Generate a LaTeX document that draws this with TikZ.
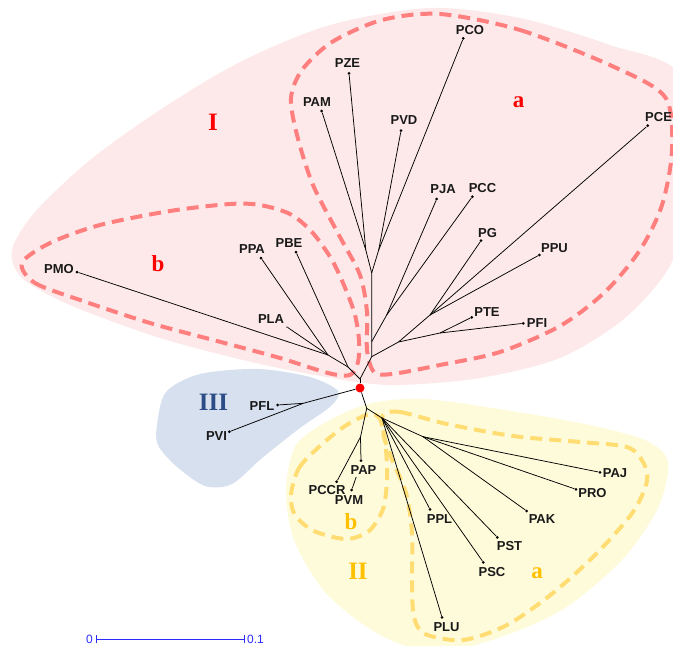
\documentclass[tikz,border=0pt]{standalone}
\usepackage{fontspec}
\setmainfont{Liberation Sans}
\newfontfamily\lserif{Liberation Serif}
\definecolor{pinkbg}{HTML}{FDE9EA}
\definecolor{reddash}{HTML}{FF7F7F}
\definecolor{bluebg}{HTML}{D6E0EE}
\definecolor{yellowbg}{HTML}{FEFBDB}
\definecolor{yellowdash}{HTML}{FFDD72}
\definecolor{goldtxt}{HTML}{FFC000}
\definecolor{navytxt}{HTML}{2B4C86}
\definecolor{scaleblue}{HTML}{2B2BFF}
\begin{document}
\begin{tikzpicture}[x=1pt,y=-1pt,
  leaf/.style={circle,fill=black,inner sep=0pt,minimum size=3pt},
  root/.style={circle,fill=red,inner sep=0pt,minimum size=9pt},
  lab/.style={font=\bfseries\fontsize{13}{13}\selectfont,inner sep=0pt,text=black!90},
  branch/.style={black,line width=0.75pt},
  regdash/.style={line width=4pt,dash pattern=on 12pt off 7pt},
  grp/.style={font=\lserif\bfseries\fontsize{25}{25}\selectfont,inner sep=0pt},
  sub/.style={font=\lserif\bfseries\fontsize{23}{23}\selectfont,inner sep=0pt},
  sclab/.style={font=\fontsize{12}{12}\selectfont,text=scaleblue,inner sep=0pt}]
\useasboundingbox (0,0) rectangle (673,646);
\clip (0,0) rectangle (673,646);
% background regions
\fill[pinkbg] plot[smooth cycle] coordinates {(12,250) (35,212) (90,160) (160,110) (240,62) (330,25) (430,8) (520,18) (610,45) (680,75) (692,180) (672,262) (625,318) (560,358) (480,378) (400,385) (350,381) (260,364) (160,338) (70,305) (22,278)};
\fill[bluebg] plot[smooth cycle] coordinates {(157,425) (166,392) (200,374) (258,369) (310,377) (338,391) (331,406) (300,428) (262,458) (232,484) (205,486) (176,466) (158,445)};
\fill[yellowbg] plot[smooth cycle] coordinates {(296,445) (330,420) (372,403) (425,399) (505,410) (585,424) (645,440) (668,462) (658,508) (622,560) (562,610) (492,640) (430,652) (375,632) (325,592) (294,540) (286,490)};
% dashed subgroups
\draw[regdash,reddash] plot[smooth cycle] coordinates {(440,14) (520,30) (612,66) (665,97) (672,150) (662,205) (640,250) (605,292) (560,326) (500,352) (440,365) (392,374) (374,372) (367,350) (367,312) (360,275) (340,237) (313,185) (297,135) (291,98) (302,70) (332,42) (382,20)};
\draw[regdash,reddash] plot[smooth cycle] coordinates {(22,263) (35,283) (83,301) (150,323) (217,341) (280,358) (328,373) (350,375) (358,362) (359,340) (355,315) (346,290) (332,260) (312,232) (290,214) (260,205) (230,204) (170,211) (100,225) (50,243)};
\draw[regdash,yellowdash] plot[smooth cycle] coordinates {(383,415) (400,412) (447,424) (513,436) (580,442) (627,447) (643,462) (647,481) (633,512) (597,553) (553,593) (507,625) (463,640) (425,634) (414,617) (412,583) (412,533) (406,493) (391,457) (383,433)};
\draw[regdash,yellowdash] plot[smooth cycle] coordinates {(291,495) (299,468) (320,446) (345,426) (370,414) (381,421) (386,450) (387,480) (383,509) (369,531) (346,539) (314,531) (295,515)};
% internal points
\coordinate (A) at (360,379);
\coordinate (Bb) at (348,367);
\coordinate (Bc) at (328,355);
\coordinate (D) at (371.7,356.7);
\coordinate (L) at (371.7,341.7);
\coordinate (E) at (371.7,273);
\coordinate (K) at (386.7,315);
\coordinate (G) at (365.8,250);
\coordinate (F) at (378.7,250);
\coordinate (I) at (398.5,342);
\coordinate (H) at (430,315);
\coordinate (J) at (440,333);
\coordinate (T) at (303.3,403.3);
\coordinate (M) at (366.7,408.3);
\coordinate (N) at (382,418);
\coordinate (P1) at (423,436.7);
\coordinate (Q) at (360.5,437);
\coordinate (vmj) at (356.2,477);
% leaves
\node[leaf] (pco) at (463.3,38.3) {};
\node[leaf] (pze) at (349,73.3) {};
\node[leaf] (pam) at (321.7,111) {};
\node[leaf] (pvd) at (401,130.7) {};
\node[leaf] (pce) at (647.7,125.7) {};
\node[leaf] (pja) at (436.7,199) {};
\node[leaf] (pcc) at (472.3,196.7) {};
\node[leaf] (pg) at (481,240.7) {};
\node[leaf] (ppu) at (539.3,255) {};
\node[leaf] (pte) at (471.7,317.3) {};
\node[leaf] (pfi) at (523.3,323.3) {};
\node[leaf] (pmo) at (77,272) {};
\node[leaf] (ppa) at (261,258) {};
\node[leaf] (pbe) at (296,252) {};
\node[leaf,minimum size=1.5pt] (pla) at (287,327) {};
\node[leaf] (pfl) at (277.7,405) {};
\node[leaf] (pvi) at (229.3,431.7) {};
\node[leaf] (pap) at (361,460.7) {};
\node[leaf] (pccr) at (336.7,481.7) {};
\node[leaf] (pvm) at (351.7,490) {};
\node[leaf] (paj) at (600,472.3) {};
\node[leaf] (pro) at (576,489.3) {};
\node[leaf] (pak) at (526.7,511) {};
\node[leaf] (ppl) at (430,509.3) {};
\node[leaf] (pst) at (497.3,537.3) {};
\node[leaf] (psc) at (483.3,562.3) {};
\node[leaf] (plu) at (442,617.3) {};
% branches
\draw[branch] (A) -- (Bb) -- (pbe);
\draw[branch] (Bb) -- (Bc) -- (pmo);
\draw[branch] (Bc) -- (pla);
\draw[branch] (Bc) -- (ppa);
\draw[branch] (A) -- (D) -- (L) -- (E);
\draw[branch] (L) -- (K) -- (pja);
\draw[branch] (K) -- (pcc);
\draw[branch] (E) -- (G) -- (pam);
\draw[branch] (G) -- (pze);
\draw[branch] (E) -- (F) -- (pvd);
\draw[branch] (F) -- (pco);
\draw[branch] (D) -- (I) -- (H) -- (pg);
\draw[branch] (H) -- (pce);
\draw[branch] (H) -- (ppu);
\draw[branch] (I) -- (J) -- (pte);
\draw[branch] (J) -- (pfi);
\draw[branch] (T) -- (pfl);
\draw[branch] (T) -- (pvi);
\draw[branch] (M) -- (N) -- (plu);
\draw[branch] (N) -- (ppl);
\draw[branch] (N) -- (psc);
\draw[branch] (N) -- (pst);
\draw[branch] (N) -- (P1) -- (pak);
\draw[branch] (P1) -- (pro);
\draw[branch] (P1) -- (paj);
\draw[branch] (M) -- (Q) -- (pap);
\draw[branch] (Q) -- (pccr);
\draw[branch] (vmj) -- (pvm);
\node[root] (R) at (360,388) {};
\draw[branch] (R) -- (A);
\draw[branch] (R) -- (T);
\draw[branch] (R) -- (M);
% labels
\node[lab] (lpco) at (470,30) {PCO};
\node[lab] (lpze) at (347.5,63.5) {PZE};
\node[lab] (lpam) at (317,102) {PAM};
\node[lab] (lpvd) at (404,120.5) {PVD};
\node[lab,anchor=west] (lpce) at (645,117.5) {PCE};
\node[lab] (lpja) at (443,189) {PJA};
\node[lab] (lpcc) at (482.5,188) {PCC};
\node[lab] (lpg) at (487.5,233) {PG};
\node[lab] (lppu) at (554.5,248.5) {PPU};
\node[lab] (lpte) at (487,312.5) {PTE};
\node[lab] (lpfi) at (537,323) {PFI};
\node[lab] (lpmo) at (59,269.5) {PMO};
\node[lab] (lppa) at (252,249) {PPA};
\node[lab] (lpbe) at (289,243) {PBE};
\node[lab] (lpla) at (271,319.5) {PLA};
\node[lab] (lpfl) at (262,406.5) {PFL};
\node[lab] (lpvi) at (216.5,436.5) {PVI};
\node[lab,fill=yellowbg] (lpap) at (363.5,470) {PAP};
\node[lab] (lpccr) at (327,490) {PCCR};
\node[lab] (lpvm) at (349,500) {PVM};
\node[lab] (lpaj) at (615,473.5) {PAJ};
\node[lab] (lpro) at (592.5,493) {PRO};
\node[lab] (lpak) at (542,519) {PAK};
\node[lab] (lppl) at (439.5,519) {PPL};
\node[lab] (lpst) at (509.5,546) {PST};
\node[lab] (lpsc) at (492,572) {PSC};
\node[lab] (lplu) at (446.5,627) {PLU};
% group labels
\node[grp,text=red] (gI) at (213,122) {I};
\node[grp,text=navytxt] (gIII) at (213.5,402) {III};
\node[grp,text=goldtxt] (gII) at (358,571) {II};
\node[sub,text=red] (sIa) at (518.5,102) {a};
\node[sub,text=red] (sIb) at (158,264) {b};
\node[sub,text=goldtxt] (sIIa) at (537,573) {a};
\node[sub,text=goldtxt] (sIIb) at (351,522) {b};
% scale bar
\coordinate (sa) at (96,639);
\coordinate (sb) at (245,639);
\draw[scaleblue,line width=0.8pt,|-|] (sa) -- (sb);
\node[sclab] (s0) at (89.5,639) {0};
\node[sclab,anchor=west] (s1) at (247,639) {0.1};
\end{tikzpicture}
\end{document}
